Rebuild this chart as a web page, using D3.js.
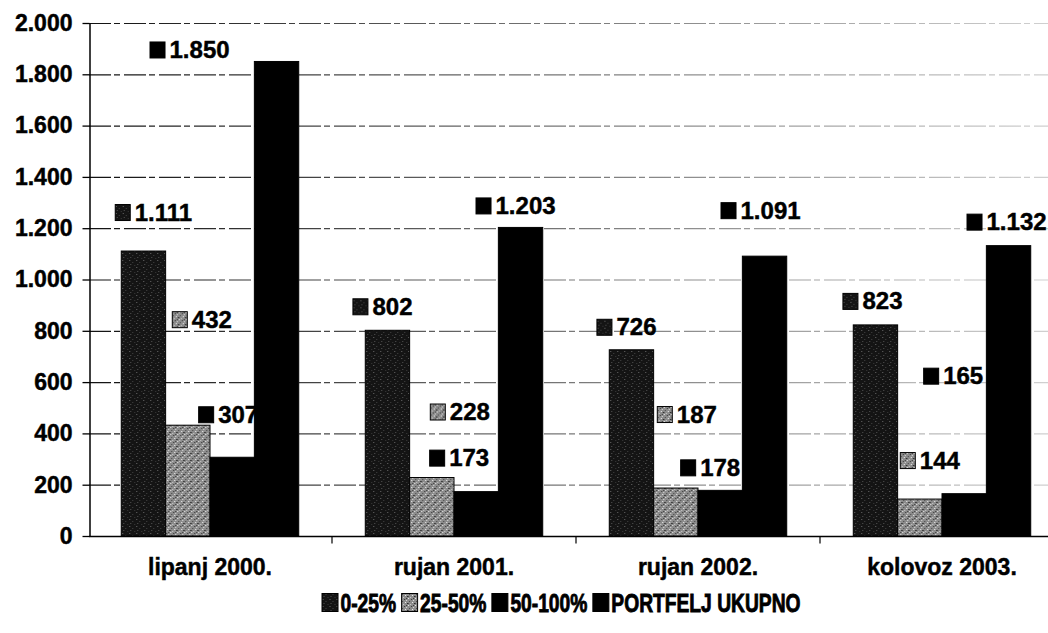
<!DOCTYPE html>
<html>
<head>
<meta charset="utf-8">
<script src="https://cdn.jsdelivr.net/npm/d3@7"></script>
<style>
    body { margin: 0; background: #fff; }
    svg text { font-family: "Liberation Sans", Arial, sans-serif; font-weight: bold; fill: #000;
        stroke: #000; stroke-width: 0.45px; }
    svg .legend text { stroke-width: 0.9px; }
</style>
</head>
<body>
<svg id="chart" width="1048" height="633"></svg>
<script>
// data
const categories = ['lipanj 2000.', 'rujan 2001.', 'rujan 2002.', 'kolovoz 2003.'];
const seriesNames = ['0-25%', '25-50%', '50-100%', 'PORTFELJ UKUPNO'];
const share0to25 = [1111, 802, 726, 823];
const share25to50 = [432, 228, 187, 144];
const share50to100 = [307, 173, 178, 165];
const portfeljTotal = [1850, 1203, 1091, 1132];
const yTicks = [0, 200, 400, 600, 800, 1000, 1200, 1400, 1600, 1800, 2000];

// labels were dragged around by hand in the original; px offsets from bar top-centre
const labelNudge = [
    [[10, -39], [-5, -24], [-5, -23], [-3, -24]],
    [[14, -106], [28, -66], [11, -74], [10, -39]],
    [[-4, -43], [-17, -34], [-10, -23], [-11, -118]],
    [[-87, -12], [-5, -22], [-4, -46], [-2, -24]]
];

const seriesValues = [share0to25, share25to50, share50to100, portfeljTotal];
const fills = ['url(#stipDark)', 'url(#stipGrey)', '#000', '#000'];

const margin = {top: 23, left: 89, bottom: 536};
const plotRight = 1064;   // the scan cuts the chart off on the right

const fmt = d3.formatLocale({decimal: ',', thousands: '.', grouping: [3], currency: ['', '']}).format(',d');

const svg = d3.select('#chart');
const defs = svg.append('defs');

// stipple textures (fixed dots, mimics the printed screen)
function stipple(id, base, dots) {
    const p = defs.append('pattern').attr('id', id)
        .attr('patternUnits', 'userSpaceOnUse').attr('width', 7).attr('height', 7);
    p.append('rect').attr('width', 7).attr('height', 7).attr('fill', base);
    dots.forEach(d => p.append('rect').attr('x', d[0]).attr('y', d[1])
        .attr('width', 1).attr('height', 1).attr('fill', d[2]));
}
stipple('stipDark', '#141414', [[1, 1, '#6a6a6a'], [4, 3, '#444'], [2, 5, '#555'], [6, 6, '#3a3a3a']]);
stipple('stipGrey', '#8c8c8c', [[0, 0, '#eee'], [3, 1, '#333'], [5, 2, '#ddd'], [1, 3, '#444'],
    [4, 4, '#f4f4f4'], [6, 5, '#222'], [2, 6, '#ccc'], [0, 5, '#555'], [5, 0, '#333']]);

const grad = defs.append('linearGradient').attr('id', 'gridFade')
    .attr('gradientUnits', 'userSpaceOnUse')
    .attr('x1', margin.left).attr('x2', 1048).attr('y1', 0).attr('y2', 0);
grad.append('stop').attr('offset', 0).attr('stop-color', '#111');
grad.append('stop').attr('offset', 0.4).attr('stop-color', '#666');
grad.append('stop').attr('offset', 1).attr('stop-color', '#d0d0d0');

// scales
const x0 = d3.scaleBand().domain(categories).range([margin.left - 1, plotRight])
    .paddingInner(1.5 / 5.5).paddingOuter(0.75 / 5.5);
const x1 = d3.scaleBand().domain(d3.range(seriesNames.length)).range([0, x0.bandwidth()]);
const y = d3.scaleLinear().domain([0, 2000]).range([margin.bottom, margin.top]);

// gridlines
svg.append('g').selectAll('line').data(yTicks.slice(1)).join('line')
    .attr('x1', margin.left).attr('x2', 1048)
    .attr('y1', d => y(d) + 0.5).attr('y2', d => y(d) + 0.5)
    .attr('stroke', 'url(#gridFade)').attr('stroke-width', 1.2)
    .attr('stroke-dasharray', '22 3 6 4');

// y axis
const yAxis = svg.append('g')
    .attr('transform', `translate(${margin.left + 0.5},0)`)
    .call(d3.axisLeft(y).tickValues(yTicks).tickFormat(fmt).tickSize(7).tickSizeOuter(0).tickPadding(10));
yAxis.select('.domain').attr('stroke', '#000').attr('stroke-width', 1.5);
yAxis.selectAll('.tick line').attr('stroke', '#000').attr('stroke-width', 1.3);
yAxis.selectAll('text').style('font-size', '23px').attr('fill', '#000');

// x axis
const xAxis = svg.append('g')
    .attr('transform', `translate(0,${margin.bottom + 0.5})`)
    .call(d3.axisBottom(x0).tickSize(0).tickPadding(22));
xAxis.select('.domain').attr('stroke', '#000').attr('stroke-width', 1.5)
    .attr('d', `M${margin.left},0H1048`);
xAxis.selectAll('text').style('font-size', '23px').attr('fill', '#000');
xAxis.selectAll('line.sep').data(categories.slice(1)).join('line').attr('class', 'sep')
    .attr('x1', d => x0(d) - x0.step() * x0.paddingInner() / 2)
    .attr('x2', d => x0(d) - x0.step() * x0.paddingInner() / 2)
    .attr('y1', 0).attr('y2', 7).attr('stroke', '#000').attr('stroke-width', 1.2);

// data labels: drawn first, the tall PORTFELJ bars sit on top of some of them in the scan
const labelG = svg.append('g');
seriesValues.forEach((vals, s) => {
    vals.forEach((v, i) => {
        const cx = x0(categories[i]) + x1(s) + x1.bandwidth() / 2 + labelNudge[s][i][0];
        const cy = y(v) + labelNudge[s][i][1];
        const g = labelG.append('g');
        const t = g.append('text').attr('x', 20).attr('y', 8.5).style('font-size', '24px').text(fmt(v));
        const w = 20 + t.node().getComputedTextLength();
        g.insert('rect', 'text').attr('x', 0.5).attr('y', -7.5).attr('width', 15).attr('height', 16)
            .attr('fill', fills[s]).attr('stroke', '#000').attr('stroke-width', 1);
        g.attr('transform', `translate(${cx - w / 2},${cy})`);
    });
});

// bars
const groups = svg.append('g').selectAll('g').data(categories).join('g')
    .attr('transform', d => `translate(${x0(d)},0)`);
groups.selectAll('rect')
    .data((d, i) => seriesValues.map((vals, s) => ({s: s, v: vals[i]})))
    .join('rect')
    .attr('x', d => x1(d.s))
    .attr('y', d => y(d.v))
    .attr('width', x1.bandwidth())
    .attr('height', d => y(0) - y(d.v))
    .attr('fill', d => fills[d.s])
    .attr('stroke', '#000').attr('stroke-width', 1);

// legend (the print uses a narrow face, squeeze the text horizontally)
const squeeze = 0.74;
const legend = svg.append('g').attr('class', 'legend');
let lx = 0;
seriesNames.forEach((name, s) => {
    const item = legend.append('g').attr('transform', `translate(${lx},0)`);
    item.append('rect').attr('x', 0.5).attr('y', -18.5).attr('width', 16).attr('height', 18)
        .attr('fill', fills[s]).attr('stroke', '#000');
    const t = item.append('text').attr('transform', `translate(19,0) scale(${squeeze},1)`)
        .style('font-size', '26px').text(name);
    lx += 19 + t.node().getComputedTextLength() * squeeze + 5;
});
legend.attr('transform', `translate(${561 - (lx - 5) / 2},612)`);
</script>
</body>
</html>
